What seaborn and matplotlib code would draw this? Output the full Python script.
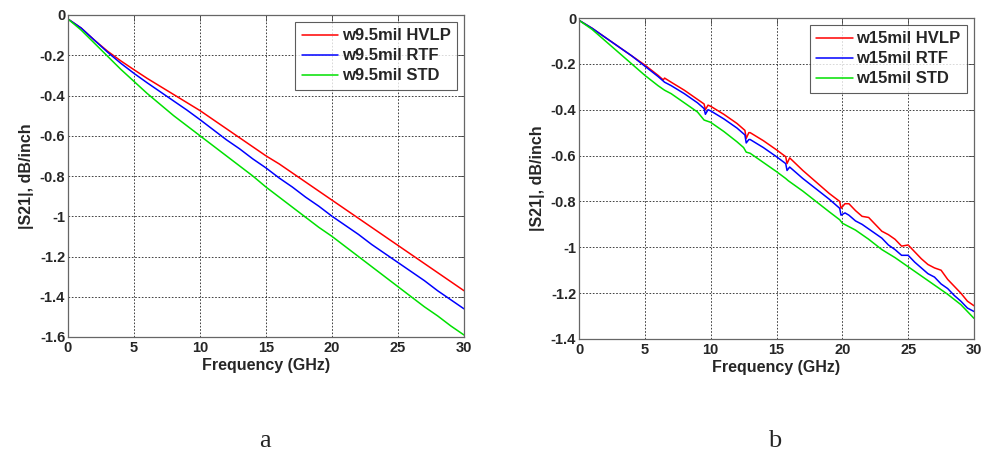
import numpy as np
import pandas as pd
import matplotlib
matplotlib.use("Agg")
import matplotlib.pyplot as plt
import seaborn as sns

# ---- panel a: w9.5mil traces ----
freq_a = [0, 1, 2, 3, 4, 5, 6, 7, 8, 9, 10, 11, 12, 13, 14, 15,
          16, 17, 18, 19, 20, 21, 22, 23, 24, 25, 26, 27, 28, 29, 30]
hvlp_a = [-0.02, -0.065, -0.125, -0.18, -0.228, -0.272, -0.315, -0.355, -0.395, -0.435, -0.475,
          -0.52, -0.565, -0.61, -0.655, -0.70, -0.74, -0.785, -0.83, -0.875, -0.92,
          -0.965, -1.01, -1.055, -1.10, -1.145, -1.19, -1.235, -1.28, -1.325, -1.37]
rtf_a = [-0.02, -0.065, -0.125, -0.185, -0.24, -0.29, -0.337, -0.382, -0.427, -0.472, -0.52,
         -0.57, -0.62, -0.665, -0.715, -0.76, -0.81, -0.855, -0.905, -0.95, -1.00,
         -1.045, -1.09, -1.14, -1.185, -1.23, -1.275, -1.32, -1.37, -1.415, -1.46]
std_a = [-0.02, -0.075, -0.14, -0.205, -0.27, -0.33, -0.39, -0.445, -0.50, -0.55, -0.60,
         -0.65, -0.70, -0.75, -0.80, -0.855, -0.905, -0.955, -1.005, -1.055, -1.10,
         -1.15, -1.20, -1.25, -1.30, -1.35, -1.40, -1.45, -1.495, -1.545, -1.59]

# ---- panel b: w15mil traces ----
freq_b_hvlp = [0, 1, 2, 3, 4, 5, 6, 6.4, 6.5, 7, 8, 9, 9.5, 9.6, 9.8, 10, 11, 12,
               12.6, 12.7, 12.9, 13, 14, 15, 15.7, 15.8, 16, 17, 18, 19, 19.8, 19.9,
               20.2, 20.5, 21, 21.5, 22, 22.5, 23, 23.5, 24, 24.5, 25, 25.5, 26,
               26.5, 27, 27.5, 28, 28.5, 29, 29.5, 30]
hvlp_b = [-0.01, -0.045, -0.085, -0.125, -0.165, -0.205, -0.25, -0.27, -0.262, -0.28,
          -0.315, -0.355, -0.375, -0.40, -0.38, -0.385, -0.42, -0.46, -0.49, -0.525,
          -0.50, -0.50, -0.535, -0.575, -0.605, -0.635, -0.61, -0.665, -0.715, -0.765,
          -0.80, -0.83, -0.81, -0.81, -0.84, -0.865, -0.87, -0.90, -0.93, -0.945,
          -0.965, -0.995, -0.99, -1.02, -1.05, -1.075, -1.09, -1.10, -1.14, -1.17,
          -1.20, -1.235, -1.255]
freq_b_rtf = freq_b_hvlp
rtf_b = [-0.01, -0.045, -0.085, -0.125, -0.165, -0.21, -0.255, -0.275, -0.28, -0.295,
         -0.33, -0.37, -0.395, -0.42, -0.40, -0.405, -0.44, -0.48, -0.51, -0.545,
         -0.53, -0.53, -0.565, -0.605, -0.635, -0.665, -0.65, -0.70, -0.745, -0.79,
         -0.83, -0.86, -0.85, -0.86, -0.885, -0.90, -0.92, -0.94, -0.96, -0.99,
         -1.01, -1.035, -1.035, -1.065, -1.09, -1.115, -1.13, -1.16, -1.18, -1.21,
         -1.235, -1.265, -1.28]
freq_b_std = [0, 1, 2, 3, 4, 5, 6, 6.5, 7, 8, 9, 9.5, 10, 11, 12, 12.5, 12.7, 13,
              14, 15, 15.7, 15.9, 17, 18, 19, 19.8, 20, 21, 22, 23, 24, 25, 26, 27,
              28, 29, 30]
std_b = [-0.01, -0.05, -0.10, -0.15, -0.20, -0.25, -0.295, -0.315, -0.33, -0.37,
         -0.41, -0.445, -0.455, -0.495, -0.54, -0.565, -0.585, -0.59, -0.63, -0.67,
         -0.70, -0.71, -0.755, -0.80, -0.845, -0.88, -0.895, -0.925, -0.965, -1.01,
         -1.045, -1.085, -1.125, -1.165, -1.205, -1.25, -1.31]

labels_a = ["w9.5mil HVLP", "w9.5mil RTF", "w9.5mil STD"]
labels_b = ["w15mil HVLP", "w15mil RTF", "w15mil STD"]
line_colors = ["#ff0000", "#0000ff", "#00e000"]

yticks_a = [0, -0.2, -0.4, -0.6, -0.8, -1.0, -1.2, -1.4, -1.6]
yticks_b = [0, -0.2, -0.4, -0.6, -0.8, -1.0, -1.2, -1.4]
xticks = [0, 5, 10, 15, 20, 25, 30]


def long_frame(series):
    rows = []
    for name, xs, ys in series:
        rows.append(pd.DataFrame({"freq": xs, "s21": ys, "trace": name}))
    return pd.concat(rows, ignore_index=True)


df_a = long_frame([(labels_a[0], freq_a, hvlp_a),
                   (labels_a[1], freq_a, rtf_a),
                   (labels_a[2], freq_a, std_a)])
df_b = long_frame([(labels_b[0], freq_b_hvlp, hvlp_b),
                   (labels_b[1], freq_b_rtf, rtf_b),
                   (labels_b[2], freq_b_std, std_b)])

sns.set_theme(style="white")
plt.rcParams['font.family'] = ['Liberation Sans', 'DejaVu Sans']

fig = plt.figure(figsize=(9.85, 4.54), dpi=100)
ax_a = fig.add_axes([68 / 985, 1 - 337 / 454, 396 / 985, 322 / 454])
ax_b = fig.add_axes([579 / 985, 1 - 339 / 454, 395 / 985, 321 / 454])


def style_panel(ax, df, labels, yticks, ylim):
    sns.lineplot(data=df, x="freq", y="s21", hue="trace", hue_order=labels,
                 palette=dict(zip(labels, line_colors)), estimator=None,
                 sort=False, linewidth=1.1, ax=ax)
    ax.set_xlim(0, 30)
    ax.set_ylim(*ylim)
    ax.set_xticks(xticks)
    ax.set_yticks(yticks)
    ax.set_xticklabels([f"{t:g}" for t in xticks], fontweight="bold", fontsize=10.5)
    ax.set_yticklabels([f"{t:g}" for t in yticks], fontweight="bold", fontsize=10.5)
    ax.grid(True, color="#222222", linestyle=(0, (2, 2)), linewidth=0.6)
    ax.tick_params(direction="in", length=4, width=0.6, color="#444444",
                   top=True, right=True)
    ax.tick_params(axis="x", pad=3)
    ax.tick_params(axis="y", pad=2)
    for sp in ax.spines.values():
        sp.set_color("#666666")
        sp.set_linewidth(0.9)
    ax.set_xlabel("Frequency (GHz)", fontweight="bold", fontsize=11.5, labelpad=2)
    ax.set_ylabel("|S21|, dB/inch", fontweight="bold", fontsize=11.5, labelpad=4)
    leg = ax.legend(loc="upper right", fontsize=12, frameon=True, fancybox=False,
                    handlelength=2.2, borderaxespad=0.4, labelspacing=0.3,
                    handletextpad=0.2, borderpad=0.4)
    leg.get_frame().set_edgecolor("#333333")
    leg.get_frame().set_linewidth(0.8)
    for t in leg.get_texts():
        t.set_fontweight("bold")


style_panel(ax_a, df_a, labels_a, yticks_a, (-1.6, 0))
style_panel(ax_b, df_b, labels_b, yticks_b, (-1.4, 0))

fig.text(265 / 985, 2 / 454, "a", ha="center", va="bottom",
         fontsize=19, family=["Liberation Serif", "DejaVu Serif"])
fig.text(775 / 985, 2 / 454, "b", ha="center", va="bottom",
         fontsize=19, family=["Liberation Serif", "DejaVu Serif"])

fig.savefig("out.png", dpi=100)
